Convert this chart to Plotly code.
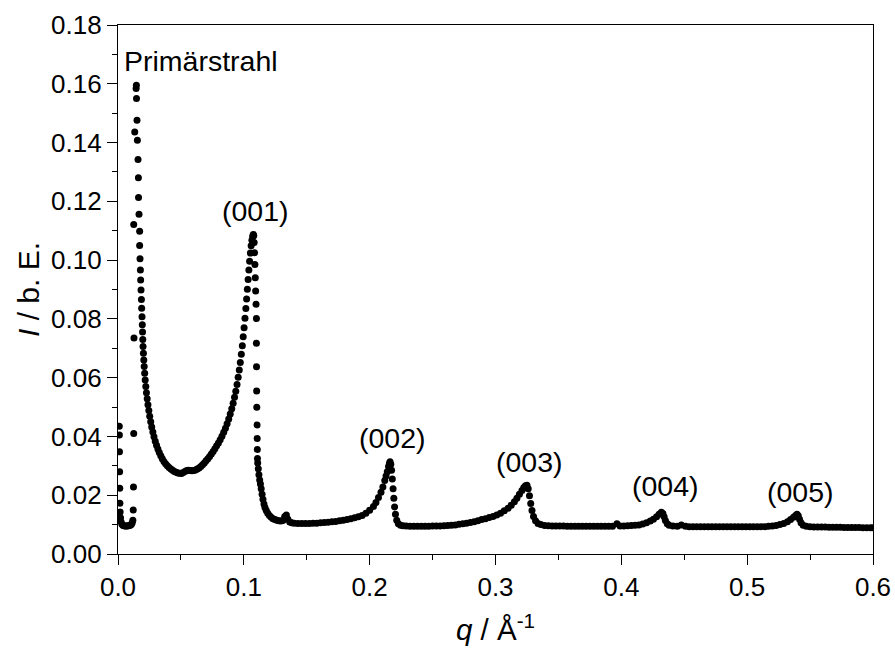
import plotly.graph_objects as go

# --- primary beam region ---
q_beam = [0.0010, 0.0011, 0.0012, 0.0013, 0.0014, 0.0015, 0.0017, 0.0020, 0.0024, 0.0030,
          0.0038, 0.0047, 0.0056, 0.0065, 0.0074, 0.0083, 0.0092, 0.0100, 0.0107, 0.0113,
          0.0118, 0.0121, 0.0123, 0.0125, 0.0127, 0.0125, 0.0133, 0.0144, 0.0146, 0.0147,
          0.0151, 0.0154, 0.0159, 0.0162, 0.0163, 0.0167, 0.0172, 0.0172, 0.0175, 0.0178,
          0.0180, 0.0183, 0.0186, 0.0188, 0.0191]
I_beam = [0.0435, 0.0405, 0.0348, 0.0280, 0.0224, 0.0173, 0.0143, 0.0123, 0.0110, 0.0102,
          0.0098, 0.0096, 0.0095, 0.0095, 0.0095, 0.0096, 0.0097, 0.0099, 0.0101, 0.0106,
          0.0115, 0.0150, 0.0228, 0.0410, 0.0735, 0.1121, 0.1436, 0.1584, 0.1595, 0.1550,
          0.1476, 0.1408, 0.1342, 0.1280, 0.1213, 0.1156, 0.1098, 0.1050, 0.1005, 0.0966,
          0.0932, 0.0898, 0.0866, 0.0836, 0.0807]

# --- bowl and (001) reflection ---
q_001 = [0.0193, 0.0195, 0.0197, 0.0199, 0.0202, 0.0205, 0.0208, 0.0212, 0.0216, 0.0221,
         0.0226, 0.0232, 0.0238, 0.0245, 0.0252, 0.0260, 0.0268, 0.0277, 0.0286, 0.0296,
         0.0306, 0.0317, 0.0328, 0.0340, 0.0352, 0.0365, 0.0378, 0.0392, 0.0406, 0.0420,
         0.0434, 0.0448, 0.0462, 0.0476, 0.0490, 0.0504, 0.0518, 0.0532, 0.0546, 0.0560,
         0.0574, 0.0588, 0.0602, 0.0616, 0.0630, 0.0644, 0.0658, 0.0672, 0.0686, 0.0700,
         0.0714, 0.0728, 0.0742, 0.0756, 0.0770, 0.0784, 0.0798, 0.0812, 0.0826, 0.0840,
         0.0854, 0.0867, 0.0880, 0.0892, 0.0904, 0.0915, 0.0926, 0.0936, 0.0946, 0.0955,
         0.0964, 0.0972, 0.0980, 0.0988, 0.0995, 0.1002, 0.1009, 0.1016, 0.1022, 0.1028,
         0.1034, 0.1040, 0.1046, 0.1052, 0.1058, 0.1064, 0.1070, 0.1075,
         0.1079, 0.1082, 0.1085, 0.1088, 0.1091, 0.1094, 0.1097, 0.1100, 0.1100, 0.1101,
         0.1102, 0.1103, 0.1105, 0.1106, 0.1107, 0.1108,
         0.1110, 0.1115, 0.1120, 0.1126, 0.1132, 0.1138, 0.1145, 0.1152, 0.1160, 0.1168,
         0.1178, 0.1190, 0.1203, 0.1217, 0.1232, 0.1247, 0.1262, 0.1278, 0.1294, 0.1310,
         0.1325, 0.1338, 0.1350, 0.1365, 0.1380]
I_001 = [0.0780, 0.0755, 0.0730, 0.0706, 0.0683, 0.0660, 0.0638, 0.0615, 0.0592, 0.0570,
         0.0549, 0.0528, 0.0508, 0.0488, 0.0469, 0.0450, 0.0432, 0.0415, 0.0399, 0.0384,
         0.0370, 0.0357, 0.0345, 0.0334, 0.0324, 0.0315, 0.0307, 0.0300, 0.0294, 0.0289,
         0.0285, 0.0281, 0.0278, 0.0276, 0.0275, 0.0274, 0.0277, 0.0281, 0.0284, 0.0285,
         0.0284, 0.0283, 0.0284, 0.0286, 0.0289, 0.0293, 0.0298, 0.0304, 0.0310, 0.0317,
         0.0324, 0.0332, 0.0340, 0.0349, 0.0358, 0.0368, 0.0378, 0.0389, 0.0401, 0.0414,
         0.0428, 0.0443, 0.0459, 0.0476, 0.0494, 0.0513, 0.0533, 0.0554, 0.0577, 0.0601,
         0.0626, 0.0652, 0.0680, 0.0709, 0.0739, 0.0770, 0.0802, 0.0835, 0.0868, 0.0901,
         0.0934, 0.0966, 0.0996, 0.1024, 0.1049, 0.1068, 0.1080, 0.1087,
         0.1083, 0.1060, 0.1025, 0.0985, 0.0940, 0.0895, 0.0850, 0.0801, 0.0717, 0.0637,
         0.0555, 0.0499, 0.0439, 0.0393, 0.0356, 0.0325,
         0.0310, 0.0290, 0.0270, 0.0252, 0.0238, 0.0222, 0.0203, 0.0186, 0.0170, 0.0158,
         0.0148, 0.0139, 0.0131, 0.0125, 0.0120, 0.0117, 0.0115, 0.0113, 0.0112, 0.0114,
         0.0128, 0.0133, 0.0118, 0.0109, 0.0106]

# --- (002) reflection ---
q_002 = [0.140, 0.143, 0.146, 0.149, 0.152, 0.155, 0.158, 0.161, 0.164, 0.167,
         0.170, 0.173, 0.176, 0.179, 0.182, 0.185, 0.188, 0.191, 0.194, 0.197,
         0.200, 0.203, 0.205, 0.207, 0.209, 0.2105, 0.212, 0.213, 0.214, 0.215,
         0.2157, 0.2162, 0.2168, 0.2174, 0.2180, 0.2186, 0.2192, 0.2198, 0.2205, 0.2215,
         0.2228, 0.2245, 0.2265, 0.2290]
I_002 = [0.0105, 0.0104, 0.0104, 0.0104, 0.0104, 0.0105, 0.0105, 0.0106, 0.0107, 0.0108,
         0.0110, 0.0111, 0.0113, 0.0115, 0.0117, 0.0120, 0.0123, 0.0127, 0.0131, 0.0139,
         0.0149, 0.0162, 0.0175, 0.0192, 0.0210, 0.0228, 0.0250, 0.0265, 0.0280, 0.0298,
         0.0308, 0.0314, 0.0305, 0.0285, 0.0255, 0.0222, 0.0190, 0.0160, 0.0135, 0.0115,
         0.0103, 0.0098, 0.0096, 0.0095]

# --- (003) reflection ---
q_003 = [0.232, 0.235, 0.238, 0.241, 0.244, 0.247, 0.250, 0.253, 0.256, 0.259,
         0.262, 0.265, 0.268, 0.271, 0.274, 0.277, 0.280, 0.283, 0.286, 0.289,
         0.292, 0.295, 0.298, 0.301, 0.304, 0.307, 0.310, 0.3125, 0.315, 0.317,
         0.319, 0.321, 0.3225, 0.3238, 0.3250, 0.3260, 0.3270, 0.3280, 0.3290, 0.3302,
         0.3318, 0.3338, 0.3360, 0.3390, 0.3420]
I_003 = [0.0094, 0.0094, 0.0094, 0.0094, 0.0094, 0.0094, 0.0095, 0.0095, 0.0095, 0.0096,
         0.0097, 0.0098, 0.0099, 0.0101, 0.0103, 0.0105, 0.0107, 0.0110, 0.0113, 0.0117,
         0.0120, 0.0124, 0.0128, 0.0133, 0.0139, 0.0147, 0.0156, 0.0166, 0.0178, 0.0190,
         0.0203, 0.0216, 0.0226, 0.0232, 0.0234, 0.0222, 0.0198, 0.0172, 0.0148, 0.0128,
         0.0113, 0.0104, 0.0100, 0.0097, 0.0096]

# --- (004) reflection ---
q_004 = [0.345, 0.348, 0.351, 0.354, 0.357, 0.360, 0.363, 0.366, 0.369, 0.372,
         0.375, 0.378, 0.381, 0.384, 0.387, 0.390, 0.393, 0.3965, 0.399, 0.402,
         0.405, 0.408, 0.411, 0.414, 0.417, 0.420, 0.423, 0.4255, 0.428, 0.430,
         0.4318, 0.4330, 0.4340, 0.4350, 0.4365, 0.4380, 0.4410, 0.4445, 0.4477, 0.4510]
I_004 = [0.0095, 0.0095, 0.0095, 0.0095, 0.0094, 0.0094, 0.0094, 0.0094, 0.0094, 0.0094,
         0.0094, 0.0094, 0.0094, 0.0094, 0.0094, 0.0094, 0.0094, 0.0103, 0.0095, 0.0095,
         0.0096, 0.0097, 0.0098, 0.0099, 0.0102, 0.0106, 0.0112, 0.0118, 0.0127, 0.0135,
         0.0142, 0.0138, 0.0127, 0.0114, 0.0103, 0.0098, 0.0095, 0.0094, 0.0099, 0.0094]

# --- (005) reflection ---
q_005 = [0.454, 0.457, 0.460, 0.463, 0.466, 0.469, 0.472, 0.475, 0.478, 0.481,
         0.484, 0.487, 0.490, 0.493, 0.496, 0.499, 0.502, 0.505, 0.508, 0.511,
         0.514, 0.517, 0.520, 0.523, 0.526, 0.529, 0.532, 0.5345, 0.5368, 0.5385,
         0.5396, 0.5406, 0.5416, 0.5428, 0.5445, 0.5470, 0.550, 0.553, 0.556, 0.559,
         0.562, 0.565, 0.568, 0.571, 0.574, 0.577, 0.580, 0.583, 0.586, 0.589,
         0.592, 0.595, 0.598, 0.600]
I_005 = [0.0093, 0.0093, 0.0093, 0.0093, 0.0093, 0.0093, 0.0093, 0.0093, 0.0093, 0.0093,
         0.0093, 0.0093, 0.0093, 0.0093, 0.0093, 0.0093, 0.0093, 0.0093, 0.0093, 0.0093,
         0.0093, 0.0094, 0.0095, 0.0097, 0.0100, 0.0104, 0.0110, 0.0117, 0.0125, 0.0131,
         0.0135, 0.0130, 0.0118, 0.0106, 0.0098, 0.0094, 0.0093, 0.0092, 0.0092, 0.0092,
         0.0092, 0.0091, 0.0091, 0.0091, 0.0091, 0.0090, 0.0090, 0.0090, 0.0090, 0.0090,
         0.0089, 0.0089, 0.0089, 0.0089]

labels = ["Primärstrahl", "(001)", "(002)", "(003)", "(004)", "(005)"]
label_q = [0.003, 0.109, 0.2179, 0.3272, 0.4353, 0.5426]
label_I = [0.1677, 0.1166, 0.0394, 0.0313, 0.0231, 0.0211]

segs = [(q_beam, I_beam), (q_001, I_001), (q_002, I_002), (q_003, I_003), (q_004, I_004), (q_005, I_005)]
q, I = [], []
for a, b in segs:
    assert len(a) == len(b), (len(a), len(b))
    q += a
    I += b

FONT = "Liberation Sans, Arial, sans-serif"

fig = go.Figure()
fig.add_trace(go.Scatter(x=q, y=I, mode="markers",
                         marker=dict(size=7, color="black", line=dict(width=0)),
                         showlegend=False, cliponaxis=True))

for i, t in enumerate(labels):
    fig.add_annotation(x=label_q[i], y=label_I[i], text=t, showarrow=False,
                       xanchor="left" if i == 0 else "center", yanchor="middle",
                       font=dict(family=FONT, size=28.5, color="black"))

axis_common = dict(showline=True, linecolor="black", linewidth=1.3, mirror=True,
                   ticks="outside", ticklen=10, tickwidth=1.3, tickcolor="black",
                   showgrid=False, zeroline=False,
                   tickfont=dict(family=FONT, size=26, color="black"))

fig.update_xaxes(range=[0, 0.6], tick0=0, dtick=0.1, tickformat=".1f",
                 minor=dict(dtick=0.05, ticks="outside", ticklen=5, tickwidth=1.3, tickcolor="black"),
                 title=dict(text="<i>q</i> / Å<sup>-1</sup>", font=dict(family=FONT, size=29.5, color="black"), standoff=18),
                 **axis_common)
fig.update_yaxes(range=[0, 0.18], tick0=0, dtick=0.02, tickformat=".2f",
                 minor=dict(dtick=0.01, ticks="outside", ticklen=5, tickwidth=1.3, tickcolor="black"),
                 title=dict(text="<i>I</i> / b. E.", font=dict(family=FONT, size=30, color="black"), standoff=2),
                 **axis_common)

fig.update_layout(width=895, height=648, margin=dict(l=118, r=22, t=25, b=94, autoexpand=False),
                  plot_bgcolor="white", paper_bgcolor="white")

fig.write_html("out.html")
